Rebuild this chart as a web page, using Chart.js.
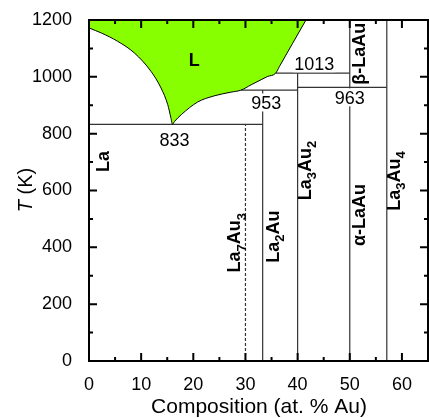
<!DOCTYPE html>
<html>
<head>
<meta charset="utf-8">
<script src="https://cdn.jsdelivr.net/npm/chart.js@4"></script>
<style>
  body { margin: 0; background: #fff; }
</style>
</head>
<body>
<canvas id="chart" width="429" height="418"></canvas>
<script>
// liquidus (at.% Au, K), eutectic at 16 / 833
const liqX = [0, 2.4, 5.5, 8.7, 11.9, 13.8, 15.1, 15.7, 16, 16.4, 17.7, 20.8, 24, 27.2, 29.1, 31.1, 33, 34.2, 35.8, 36.5, 41.6];
const liqT = [1172, 1154, 1125, 1084, 1019, 961, 902, 856, 833, 843, 867, 911, 933, 946, 953, 972, 990, 1001, 1013, 1036, 1200];

// invariant reactions: from, to, temperature
const invFrom = [0, 29.1, 40, 35.8];
const invTo = [33.3, 40, 57.1, 50];
const invT = [833, 953, 963, 1013];

// compounds: composition and top of their line
const compoundNames = ['La7Au3', 'La2Au', 'La3Au2', 'LaAu', 'La3Au4'];
const compoundX = [30, 33.3, 40, 50, 57.1];
const compoundTop = [833, 953, 1013, 1200, 1200];

const xTicks = [0, 10, 20, 30, 40, 50, 60];
const yTicks = [0, 200, 400, 600, 800, 1000, 1200];

const FONT = "'Liberation Sans', Arial, sans-serif";
const green = '#88ff00';
const lineGray = '#333333';

const datasets = [];

// liquid region, filled up to the top of the plot
datasets.push({
    data: liqX.map((v, i) => ({x: v, y: liqT[i]})),
    showLine: true,
    fill: 'end',
    backgroundColor: green,
    borderColor: '#000',
    borderWidth: 1,
    pointRadius: 0,
    cubicInterpolationMode: 'monotone'
});

invT.forEach((t, i) => {
    datasets.push({
        data: [{x: invFrom[i], y: t}, {x: invTo[i], y: t}],
        showLine: true,
        borderColor: lineGray,
        borderWidth: 1.2,
        pointRadius: 0
    });
});

compoundX.forEach((c, i) => {
    datasets.push({
        data: [{x: c, y: 0}, {x: c, y: compoundTop[i]}],
        showLine: true,
        borderColor: lineGray,
        borderWidth: 1.2,
        borderDash: compoundNames[i] === 'La7Au3' ? [3, 2] : [],
        pointRadius: 0
    });
});

// text labels: parts are [text, isSubscript]
const labels = [
    {parts: [['L']], x: 20.2, y: 1060, bold: true, size: 18},
    {parts: [['833']], x: 16.4, y: 780, size: 18, box: true},
    {parts: [['953']], x: 34, y: 908, size: 18, box: true},
    {parts: [['1013']], x: 43.2, y: 1046, size: 18, box: true},
    {parts: [['963']], x: 50, y: 926, size: 18, box: true},
    {parts: [['La']], x: 2.6, y: 702, bold: true, size: 18, rot: true},
    {parts: [['La'], ['7', 1], ['Au'], ['3', 1]], x: 27.8, y: 416, bold: true, size: 18, rot: true},
    {parts: [['La'], ['2', 1], ['Au']], x: 35.1, y: 438, bold: true, size: 18, rot: true},
    {parts: [['La'], ['3', 1], ['Au'], ['2', 1]], x: 41.4, y: 670, bold: true, size: 18, rot: true},
    {parts: [['α-LaAu']], x: 51.6, y: 514, bold: true, size: 18, rot: true},
    {parts: [['β-LaAu']], x: 51.6, y: 1081, bold: true, size: 18, rot: true},
    {parts: [['La'], ['3', 1], ['Au'], ['4', 1]], x: 58.3, y: 633, bold: true, size: 18, rot: true}
];

function font(size, bold, italic) {
    return (italic ? 'italic ' : '') + (bold ? 'bold ' : '') + size + 'px ' + FONT;
}

// draws text centred on (0,0) of the current transform, cap height centred
function drawRich(ctx, parts, size, bold, box) {
    const subSize = Math.round(size * 0.7);
    let w = 0;
    const widths = parts.map(p => {
        ctx.font = font(p[1] ? subSize : size, bold);
        const m = ctx.measureText(p[0]).width;
        w += m;
        return m;
    });
    const cap = size * 0.72;
    if (box) {
        ctx.fillStyle = '#fff';
        ctx.fillRect(-w / 2 - 1, -cap / 2 - 3, w + 2, cap + 5);
    }
    ctx.fillStyle = '#000';
    ctx.textBaseline = 'alphabetic';
    ctx.textAlign = 'left';
    let cx = -w / 2;
    parts.forEach((p, i) => {
        ctx.font = font(p[1] ? subSize : size, bold);
        ctx.fillText(p[0], cx, cap / 2 + (p[1] ? size * 0.28 : 0));
        cx += widths[i];
    });
}

const overlay = {
    id: 'overlay',
    afterDatasetsDraw(chart) {
        const ctx = chart.ctx;
        const a = chart.chartArea;
        const xs = chart.scales.x, ys = chart.scales.y;
        ctx.save();

        labels.forEach(l => {
            ctx.save();
            ctx.translate(xs.getPixelForValue(l.x), ys.getPixelForValue(l.y));
            if (l.rot) ctx.rotate(-Math.PI / 2);
            drawRich(ctx, l.parts, l.size, l.bold, l.box);
            ctx.restore();
        });

        // frame
        ctx.strokeStyle = '#000';
        ctx.lineWidth = 2;
        ctx.strokeRect(a.left, a.top, a.right - a.left, a.bottom - a.top);

        // inward ticks on all four sides
        ctx.beginPath();
        for (let v = 0; v <= 65; v += 5) {
            const px = xs.getPixelForValue(v);
            const len = v % 10 === 0 ? 8 : 4;
            ctx.moveTo(px, a.bottom); ctx.lineTo(px, a.bottom - len);
            ctx.moveTo(px, a.top); ctx.lineTo(px, a.top + len);
        }
        for (let v = 0; v <= 1200; v += 100) {
            const py = ys.getPixelForValue(v);
            const len = v % 200 === 0 ? 8 : 4;
            ctx.moveTo(a.left, py); ctx.lineTo(a.left + len, py);
            ctx.moveTo(a.right, py); ctx.lineTo(a.right - len, py);
        }
        ctx.stroke();

        // axis titles
        ctx.fillStyle = '#000';
        ctx.textBaseline = 'alphabetic';
        ctx.textAlign = 'center';
        ctx.font = font(21);
        ctx.fillText('Composition (at. % Au)', 259, 413);

        ctx.save();
        ctx.translate(32, 190);
        ctx.rotate(-Math.PI / 2);
        ctx.textAlign = 'left';
        ctx.font = font(20, false, true);
        const tw = ctx.measureText('T').width;
        ctx.font = font(20);
        const rw = ctx.measureText(' (K)').width;
        ctx.font = font(20, false, true);
        ctx.fillText('T', -(tw + rw) / 2, 0);
        ctx.font = font(20);
        ctx.fillText(' (K)', -(tw + rw) / 2 + tw, 0);
        ctx.restore();

        ctx.restore();
    }
};

const ctx = document.getElementById('chart').getContext('2d');
new Chart(ctx, {
    type: 'scatter',
    data: {datasets: datasets},
    options: {
        responsive: false,
        animation: false,
        devicePixelRatio: 1,
        layout: {padding: {top: 20, right: 1, left: 0, bottom: 0}},
        plugins: {legend: {display: false}, tooltip: {enabled: false}},
        scales: {
            x: {
                type: 'linear', min: 0, max: 65,
                grid: {display: false}, border: {display: false},
                afterFit: s => { s.height = 57; },
                afterBuildTicks: s => { s.ticks = xTicks.map(v => ({value: v})); },
                ticks: {color: '#000', padding: 5, font: {family: FONT, size: 18}, callback: v => String(v)}
            },
            y: {
                type: 'linear', min: 0, max: 1200,
                grid: {display: false}, border: {display: false},
                afterFit: s => { s.width = 89; },
                afterBuildTicks: s => { s.ticks = yTicks.map(v => ({value: v})); },
                ticks: {color: '#000', padding: 9, font: {family: FONT, size: 18}, callback: v => String(v)}
            }
        }
    },
    plugins: [overlay]
});
</script>
</body>
</html>
